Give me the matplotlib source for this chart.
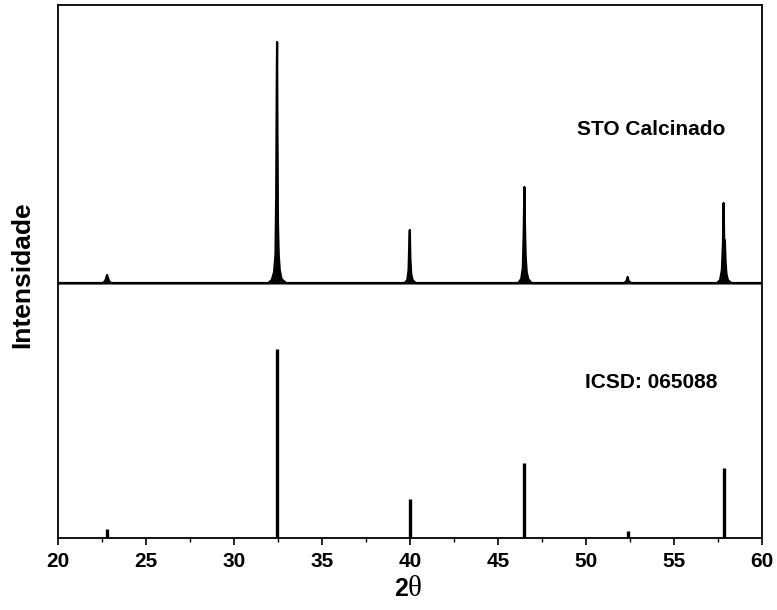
import numpy as np
import matplotlib
matplotlib.use('Agg')
import matplotlib.pyplot as plt
from matplotlib.ticker import MultipleLocator

plt.rcParams['font.family'] = ['Liberation Sans', 'DejaVu Sans']

# reference pattern (ICSD 065088), intensities in arbitrary units
icsd_pos = [22.78, 32.42, 39.98, 46.50, 52.38, 57.82]
icsd_int = [9, 189, 39, 75, 7, 70]

# measured pattern, points read around each peak (2theta, counts above baseline)
xrd_2theta = [20.0,
              22.55, 22.68, 22.74, 22.79, 22.84, 22.90, 23.02,
              31.95, 32.15, 32.28, 32.36, 32.40, 32.43, 32.45, 32.47, 32.50, 32.54, 32.60, 32.70, 32.95,
              39.70, 39.85, 39.92, 39.96, 39.99, 40.02, 40.07, 40.15, 40.32,
              46.15, 46.32, 46.41, 46.46, 46.50, 46.53, 46.57, 46.63, 46.72, 46.90,
              52.18, 52.30, 52.37, 52.42, 52.56,
              57.45, 57.62, 57.72, 57.78, 57.82, 57.85, 57.89, 57.93, 57.98, 58.06, 58.25,
              60.0]
xrd_counts = [1,
              1, 3, 6, 9, 6, 3, 1,
              1, 4, 12, 30, 90, 200, 242, 150, 60, 30, 14, 5, 1,
              1, 4, 14, 40, 54, 26, 10, 4, 1,
              1, 5, 16, 50, 97, 60, 28, 12, 5, 1,
              1, 3, 7, 3, 1,
              1, 4, 14, 40, 81, 45, 44, 22, 10, 4, 1,
              1]
xrd_offset = 254

fig = plt.figure(figsize=(7.77, 6.10), dpi=100)
ax = fig.add_axes([0.0746, 0.118, 0.9061, 0.8738])

yy = np.array(xrd_counts) + xrd_offset
ax.fill_between(xrd_2theta, xrd_offset, yy, color='black', lw=0)
ax.plot(xrd_2theta, yy, color='black', lw=1.6)
ax.vlines(icsd_pos, 0, icsd_int, color='black', lw=2.4)

ax.text(0.843, 0.767, 'STO Calcinado', transform=ax.transAxes, ha='center', va='center',
        fontsize=15, fontweight='bold')
ax.text(0.843, 0.291, 'ICSD: 065088', transform=ax.transAxes, ha='center', va='center',
        fontsize=15, fontweight='bold')

ax.set_xlim(20, 60)
ax.set_ylim(0, 533)
ax.xaxis.set_major_locator(MultipleLocator(5))
ax.xaxis.set_minor_locator(MultipleLocator(2.5))
ax.tick_params(axis='x', which='major', direction='out', length=5, width=1.2,
               labelsize=15, pad=5)
ax.tick_params(axis='x', which='minor', direction='out', length=3, width=1.0)
for lab in ax.get_xticklabels():
    lab.set_fontweight('bold')
ax.set_yticks([])
for s in ax.spines.values():
    s.set_linewidth(1.3)

fig.text(22 / 777, 1 - 275 / 610, 'Intensidade', rotation=90, ha='center', va='center',
         fontsize=19, fontweight='bold')
fig.text(408 / 777, 1 - 596 / 610, '2', ha='right', va='baseline',
         fontsize=18, fontweight='bold')
fig.text(408 / 777, 1 - 596 / 610, '\u03b8', ha='left', va='baseline',
         fontsize=21, family=['Liberation Serif', 'DejaVu Serif'])

fig.savefig('out.png', dpi=100)
